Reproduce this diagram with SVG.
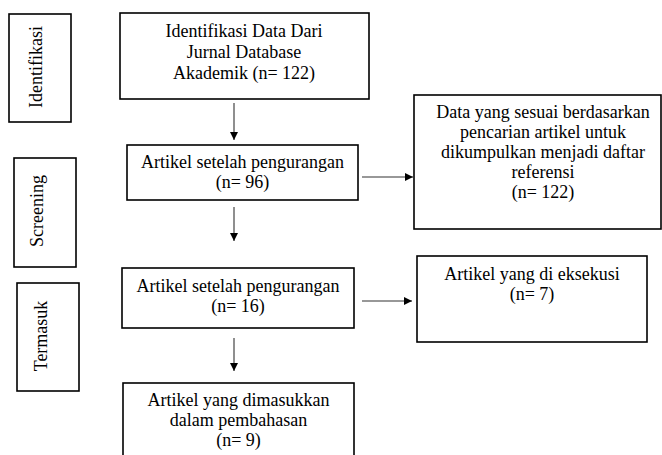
<svg xmlns="http://www.w3.org/2000/svg" width="662" height="455" viewBox="0 0 662 455" font-family="Liberation Serif, Tinos, DejaVu Serif, serif">
<style>
.box{fill:#fff;stroke:#000;stroke-width:1.6}
.t{font-family:'Liberation Serif','DejaVu Serif',serif;font-size:18px;fill:#000;text-anchor:middle}
.conn{stroke:#333;stroke-width:1.1;fill:none}
</style>
<defs>
<marker id="ah" markerWidth="8" markerHeight="8" refX="8" refY="4" orient="auto" markerUnits="userSpaceOnUse">
<path d="M0,0 L8,4 L0,8 Z" fill="#000"/>
</marker>
</defs>
<rect width="662" height="455" fill="#fff"/>
<g id="stage-identifikasi">
<rect class="box" x="9" y="14" width="62" height="108"/>
<text class="t" transform="translate(42,67) rotate(-90)">Identifikasi</text>
</g>
<g id="stage-screening">
<rect class="box" x="14" y="158" width="62" height="109"/>
<text class="t" transform="translate(43,211) rotate(-90)">Screening</text>
</g>
<g id="stage-termasuk">
<rect class="box" x="17" y="283" width="62" height="108"/>
<text class="t" transform="translate(47,336) rotate(-90)">Termasuk</text>
</g>
<g id="n1">
<rect class="box" x="120" y="13" width="249" height="86"/>
<text class="t" x="244" y="37">Identifikasi Data Dari</text>
<text class="t" x="244" y="58">Jurnal Database</text>
<text class="t" x="244" y="79">Akademik (n= 122)</text>
</g>
<g id="n2">
<rect class="box" x="127" y="145" width="231" height="55"/>
<text class="t" x="242.5" y="168">Artikel setelah pengurangan</text>
<text class="t" x="242.5" y="188">(n= 96)</text>
</g>
<g id="n3">
<rect class="box" x="122" y="268" width="232" height="60"/>
<text class="t" x="238" y="292">Artikel setelah pengurangan</text>
<text class="t" x="238" y="312">(n= 16)</text>
</g>
<g id="n4">
<rect class="box" x="123" y="383" width="231" height="80"/>
<text class="t" x="238.5" y="406">Artikel yang dimasukkan</text>
<text class="t" x="238.5" y="426">dalam pembahasan</text>
<text class="t" x="238.5" y="446">(n= 9)</text>
</g>
<g id="n5">
<rect class="box" x="414" y="95" width="247" height="134"/>
<text class="t" x="543" y="118">Data yang sesuai berdasarkan</text>
<text class="t" x="543" y="138">pencarian artikel untuk</text>
<text class="t" x="543" y="158">dikumpulkan menjadi daftar</text>
<text class="t" x="543" y="178">referensi</text>
<text class="t" x="543" y="198">(n= 122)</text>
</g>
<g id="n6">
<rect class="box" x="417" y="256" width="230" height="86"/>
<text class="t" x="532" y="280">Artikel yang di eksekusi</text>
<text class="t" x="532" y="300">(n= 7)</text>
</g>
<g id="connectors">
<line class="conn" x1="234" y1="103" x2="234" y2="140" marker-end="url(#ah)"/>
<line class="conn" x1="234" y1="207" x2="234" y2="241" marker-end="url(#ah)"/>
<line class="conn" x1="234" y1="338" x2="234" y2="371" marker-end="url(#ah)"/>
<line class="conn" x1="362" y1="177" x2="413" y2="177" marker-end="url(#ah)"/>
<line class="conn" x1="362" y1="301" x2="412" y2="301" marker-end="url(#ah)"/>
</g>
</svg>
